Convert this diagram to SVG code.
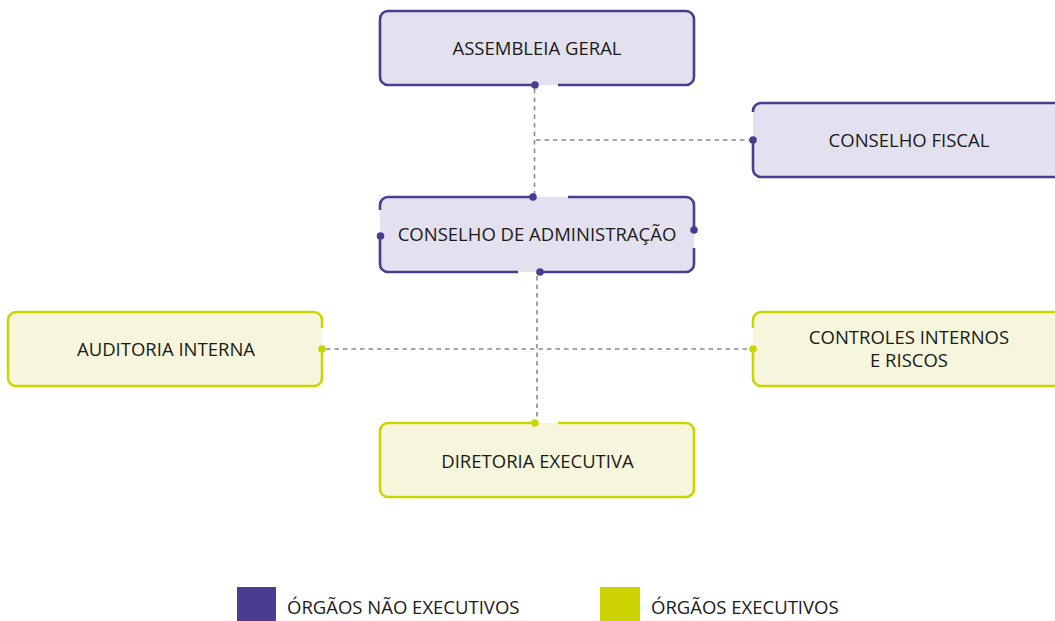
<svg xmlns="http://www.w3.org/2000/svg" width="1055" height="621" viewBox="0 0 1055 621">
<style>
.t{font-family:"Open Sans","Noto Sans","Liberation Sans",sans-serif;font-size:18.5px;fill:#1a1a1a;text-anchor:middle}
.lt{font-family:"Open Sans","Noto Sans","Liberation Sans",sans-serif;font-size:18.5px;fill:#1a1a1a}
.pf{fill:#e3e1ef}
.gf{fill:#f5f6dc}
.ps{fill:none;stroke:#4b3c90;stroke-width:2.6;stroke-linecap:butt}
.gs{fill:none;stroke:#cdd500;stroke-width:2.6;stroke-linecap:butt}
.pd{fill:#4b3c90}
.gd{fill:#cdd500}
.c{stroke:#8a8a8a;stroke-width:1.6;stroke-dasharray:4.5 4;fill:none}
</style>
<rect width="1055" height="621" fill="#ffffff"/>
<g id="connectors">
<line class="c" x1="534.5" y1="89" x2="534.5" y2="194"/>
<line class="c" x1="536" y1="140" x2="750" y2="140"/>
<line class="c" x1="537" y1="276" x2="537" y2="420"/>
<line class="c" x1="326" y1="349" x2="750" y2="349"/>
</g>
<g id="assembleia-geral">
<rect class="pf" x="380" y="11" width="314" height="74" rx="8"/>
<path class="ps" d="M535,85 H388 A8,8 0 0 1 380,77 V19 A8,8 0 0 1 388,11 H686 A8,8 0 0 1 694,19 V77 A8,8 0 0 1 686,85 H558"/>
<circle class="pd" cx="535" cy="85" r="3.8"/>
<text class="t" x="537" y="54.6">ASSEMBLEIA GERAL</text>
</g>
<g id="conselho-fiscal">
<rect class="pf" x="753" y="103" width="314" height="74" rx="8"/>
<path class="ps" d="M753,112 V111 A8,8 0 0 1 761,103 H1059 A8,8 0 0 1 1067,111 V169 A8,8 0 0 1 1059,177 H761 A8,8 0 0 1 753,169 V140"/>
<circle class="pd" cx="753" cy="140" r="3.8"/>
<text class="t" x="909" y="146.7">CONSELHO FISCAL</text>
</g>
<g id="conselho-administracao">
<rect class="pf" x="380" y="197" width="314" height="75" rx="8"/>
<path class="ps" d="M568,197 H686 A8,8 0 0 1 694,205 V230"/>
<path class="ps" d="M694,248 V264 A8,8 0 0 1 686,272 H540"/>
<path class="ps" d="M518,272 H388 A8,8 0 0 1 380,264 V236"/>
<path class="ps" d="M380,210 V205 A8,8 0 0 1 388,197 H533"/>
<circle class="pd" cx="533" cy="197" r="3.8"/>
<circle class="pd" cx="694" cy="230" r="3.8"/>
<circle class="pd" cx="540" cy="272" r="3.8"/>
<circle class="pd" cx="380.5" cy="236" r="3.8"/>
<text class="t" x="537" y="240.7">CONSELHO DE ADMINISTRAÇÃO</text>
</g>
<g id="auditoria-interna">
<rect class="gf" x="8" y="312" width="314" height="74" rx="8"/>
<path class="gs" d="M322,349 V378 A8,8 0 0 1 314,386 H16 A8,8 0 0 1 8,378 V320 A8,8 0 0 1 16,312 H314 A8,8 0 0 1 322,320 V328"/>
<circle class="gd" cx="322" cy="349" r="3.8"/>
<text class="t" x="166" y="355.5">AUDITORIA INTERNA</text>
</g>
<g id="controles-internos">
<rect class="gf" x="753" y="312" width="314" height="74" rx="8"/>
<path class="gs" d="M753,328 V320 A8,8 0 0 1 761,312 H1059 A8,8 0 0 1 1067,320 V378 A8,8 0 0 1 1059,386 H761 A8,8 0 0 1 753,378 V349"/>
<circle class="gd" cx="753" cy="349" r="3.8"/>
<text class="t" x="909" y="343.5">CONTROLES INTERNOS</text>
<text class="t" x="909" y="367">E RISCOS</text>
</g>
<g id="diretoria-executiva">
<rect class="gf" x="380" y="423" width="314" height="74" rx="8"/>
<path class="gs" d="M558,423 H686 A8,8 0 0 1 694,431 V489 A8,8 0 0 1 686,497 H388 A8,8 0 0 1 380,489 V431 A8,8 0 0 1 388,423 H535"/>
<circle class="gd" cx="535" cy="423" r="3.8"/>
<text class="t" x="537.5" y="467.7">DIRETORIA EXECUTIVA</text>
</g>
<g id="legend">
<rect x="237" y="587" width="39" height="34" fill="#4a3d8f"/>
<text class="lt" x="287" y="613.7">ÓRGÃOS NÃO EXECUTIVOS</text>
<rect x="600" y="587" width="40" height="34" fill="#cbd400"/>
<text class="lt" x="651" y="613.7">ÓRGÃOS EXECUTIVOS</text>
</g>
</svg>
